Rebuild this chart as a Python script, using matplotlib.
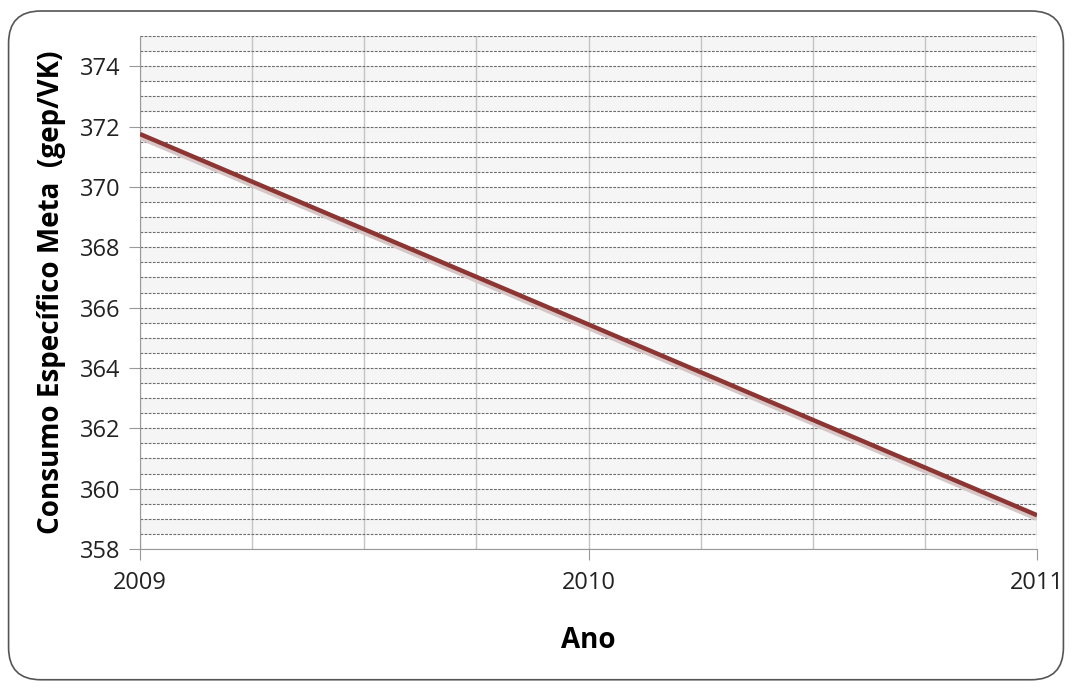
import matplotlib.pyplot as plt
import numpy as np
from matplotlib.patches import FancyBboxPatch
from matplotlib.ticker import MultipleLocator

anos = [2009, 2010, 2011]
consumo = [371.75, 365.44, 359.12]
xticks = [2009, 2010, 2011]
xlabels = ['2009', '2010', '2011']

plt.rcParams['font.family'] = ['Open Sans', 'DejaVu Sans']

fig = plt.figure(figsize=(10.72, 6.88), dpi=100)
ax = fig.add_axes([0.1306, 0.202, 0.8368, 0.7457])

# outer rounded frame
frame = FancyBboxPatch((0.008, 0.012), 0.984, 0.972, boxstyle='round,pad=0,rounding_size=0.03',
                       transform=fig.transFigure, fill=False, edgecolor='#555555', linewidth=1.2,
                       mutation_aspect=1072 / 688)
fig.patches.append(frame)

ax.set_xlim(2009, 2011)
ax.set_ylim(358, 375)

# alternating light bands
for i, y0 in enumerate(np.arange(358, 375, 0.5)):
    if i % 2 == 1:
        ax.axhspan(y0, y0 + 0.5, color='#f5f5f5', zorder=0, linewidth=0)

ax.yaxis.set_major_locator(MultipleLocator(2))
ax.yaxis.set_minor_locator(MultipleLocator(0.5))
ax.xaxis.set_minor_locator(MultipleLocator(0.25))
ax.set_xticks(xticks)
ax.set_xticklabels(xlabels)

ax.grid(True, axis='y', which='both', color='#6e6e6e', linestyle=(0, (2.5, 1.2)), linewidth=0.8)
ax.grid(True, axis='x', which='both', color='#c4c4c4', linestyle='-', linewidth=1.0)

# shadow + line
ax.plot(anos, [v - 0.1 for v in consumo], color='#d6c6c6', linewidth=4, zorder=3, solid_capstyle='butt')
ax.plot(anos, consumo, color='#8c3533', linewidth=3.2, zorder=4, solid_capstyle='butt')

for s in ['top', 'right']:
    ax.spines[s].set_visible(False)
ax.spines['left'].set_color('#999999')
ax.spines['bottom'].set_color('#999999')

ax.tick_params(axis='both', which='major', direction='out', length=8, color='#999999',
               labelsize=17, labelcolor='#222222', pad=6)
ax.tick_params(axis='both', which='minor', length=0)
ax.tick_params(axis='x', pad=8)

ax.set_xlabel('Ano', fontsize=20, fontweight='bold', labelpad=22)
ax.set_ylabel('Consumo Específico Meta  (gep/VK)', fontsize=20, fontweight='bold', labelpad=10)

fig.savefig('out.png', dpi=100)
